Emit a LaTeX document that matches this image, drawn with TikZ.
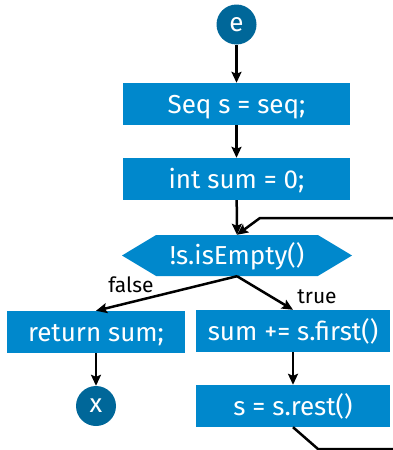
\documentclass[tikz,border=0pt]{standalone}
\usepackage{fontspec}
\setmainfont{Fira Sans}
\usetikzlibrary{arrows.meta,shapes.symbols}
\definecolor{stmtblue}{RGB}{0,136,204}
\definecolor{termblue}{RGB}{0,103,153}
\begin{document}
\begin{tikzpicture}[x=1pt,y=-1pt,
    every node/.style = {font=\fontsize{26}{30}\selectfont},
    stmt/.style = {shape=rectangle, fill=stmtblue, text=white, inner sep=0pt,
      text height=18pt, text depth=0pt},
    term/.style = {shape=circle, fill=termblue, text=white, inner sep=0pt,
      minimum size=40pt},
    cond/.style = {shape=signal, signal to=west and east, signal pointer angle=62,
      fill=stmtblue, text=white, inner sep=0pt, text height=18pt, text depth=0pt,
      minimum width=230pt, minimum height=41pt},
    branch/.style = {font=\fontsize{21}{25}\selectfont},
    flow/.style = {line width=2.5pt, -{Stealth[length=11pt,width=10pt,inset=2pt]}}]
    \useasboundingbox (0,0) rectangle (393,450);
    \node[term] (e) at (236.5,24.5) {e};
    \node[stmt, minimum width=227pt, minimum height=42pt] (seq) at (236.5,104) {Seq s = seq;};
    \node[stmt, minimum width=227pt, minimum height=42pt] (sum) at (236.5,179) {int sum = 0;};
    \node[cond] (test) at (237,255.5) {!s.isEmpty()};
    \node[stmt, minimum width=178pt, minimum height=42pt] (ret) at (96,332) {return sum;};
    \node[stmt, minimum width=194pt, minimum height=42pt] (first) at (293,331) {sum += s.first()};
    \node[stmt, minimum width=194pt, minimum height=42pt] (rest) at (293,406) {s = s.rest()};
    \node[term] (x) at (96,406) {x};
    \node[branch] (lfalse) at (131,285) {false};
    \node[branch] (ltrue) at (317,297) {true};
    \coordinate (loopin) at (393,218);
    \coordinate (loopbend) at (260,218);
    \coordinate (loopdown) at (318,449);
    \coordinate (loopout) at (393,449);
    \path[flow] (e) edge (seq);
    \path[flow] (seq) edge (sum);
    \path[flow] (sum) edge (test.north);
    \path[flow] (test.south) edge (ret.north);
    \path[flow] (test.south) edge (first.north);
    \path[flow] (ret) edge (x);
    \path[flow] (first) edge (rest);
    \draw[line width=2.5pt] (rest.south) -- (loopdown) -- (loopout);
    \draw[flow] (loopin) -- (loopbend) -- (test.north);
\end{tikzpicture}
\end{document}
